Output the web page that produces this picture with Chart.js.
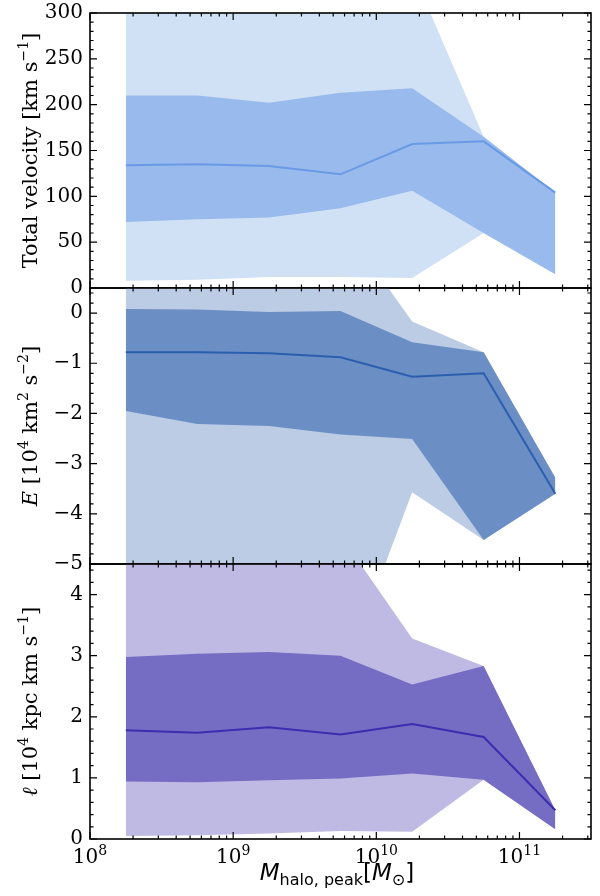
<!DOCTYPE html>
<html>
<head>
<meta charset="utf-8">
<title>Orbital properties vs halo mass</title>
<script src="https://cdn.jsdelivr.net/npm/chart.js@4.4.1/dist/chart.umd.min.js"></script>
<style>
  html, body { margin: 0; padding: 0; background: #fff; }
  #wrap { position: relative; width: 600px; height: 896px; }
  #wrap canvas { position: absolute; left: 0; top: 0; }
</style>
</head>
<body>
<div id="wrap">
  <canvas id="velocity" width="600" height="896"></canvas>
  <canvas id="energy" width="600" height="896"></canvas>
  <canvas id="angmom" width="600" height="896"></canvas>
</div>
<script>
// halo peak mass bin centres [Msun]
var massBins = [1.78e8, 5.62e8, 1.78e9, 5.62e9, 1.78e10, 5.62e10, 1.78e11];
var massRange = [1e8, 3.16e11];

// total velocity [km/s]
var velMedian  = [134, 135, 133, 124, 157, 160, 104];
var velInnerHi = [210, 210, 202, 213, 218, 165, 104];
var velInnerLo = [72, 75, 77, 87, 106, 60, 15];
var velOuterHi = [360, 360, 360, 360, 346, 165, 104];
var velOuterLo = [8, 9, 12, 12, 11, 60, 15];

// orbital energy [1e4 km^2/s^2]
var enMedian  = [-0.78, -0.78, -0.80, -0.88, -1.27, -1.20, -3.60];
var enInnerHi = [0.08, 0.07, 0.02, 0.04, -0.58, -0.78, -3.28];
var enInnerLo = [-1.95, -2.21, -2.25, -2.42, -2.51, -4.52, -3.60];
var enOuterHi = [2.0, 2.0, 2.0, 1.84, -0.17, -0.78, -3.28];
var enOuterLo = [-7.4, -7.4, -7.4, -7.38, -3.57, -4.52, -3.60];

// specific angular momentum [1e4 kpc km/s]
var amMedian  = [1.78, 1.74, 1.83, 1.71, 1.88, 1.67, 0.47];
var amInnerHi = [2.98, 3.03, 3.06, 3.00, 2.53, 2.83, 0.47];
var amInnerLo = [0.94, 0.93, 0.96, 0.99, 1.07, 0.97, 0.16];
var amOuterHi = [5.0, 5.0, 5.0, 4.97, 3.28, 2.83, 0.47];
var amOuterLo = [0.05, 0.06, 0.09, 0.13, 0.12, 0.97, 0.16];

var SERIF = '"DejaVu Serif", serif';
var SANS = '"DejaVu Sans", sans-serif';

function pts(arr) {
    return massBins.map(function (m, i) { return { x: m, y: arr[i] }; });
}

function range(min, max, step) {
    var out = [];
    for (var i = 0; ; i++) {
        var v = +(min + i * step).toFixed(6);
        if (v > max + 1e-9) break;
        out.push(v);
    }
    return out;
}

function isMult(v, m) {
    return Math.abs(v / m - Math.round(v / m)) < 1e-6;
}

function logTicks() {
    var out = [];
    for (var e = 8; e <= 11; e++) {
        for (var k = 1; k <= 9; k++) {
            var v = k * Math.pow(10, e);
            if (v >= massRange[0] && v <= massRange[1]) out.push(v);
        }
    }
    return out;
}

function drawRuns(ctx, runs, cx, cy, angle) {
    ctx.save();
    ctx.translate(cx, cy);
    ctx.rotate(angle);
    ctx.textAlign = 'left';
    ctx.textBaseline = 'alphabetic';
    ctx.fillStyle = '#000';
    var total = 0;
    runs.forEach(function (r) { ctx.font = r.font; r.w = ctx.measureText(r.text).width; total += r.w; });
    var x = -total / 2;
    runs.forEach(function (r) { ctx.font = r.font; ctx.fillText(r.text, x, r.dy || 0); x += r.w; });
    ctx.restore();
}

// inward ticks on all four sides + frame + axis titles
var framePlugin = {
    id: 'frame',
    afterDraw: function (chart) {
        var ctx = chart.ctx, a = chart.chartArea;
        var xs = chart.scales.x, ys = chart.scales.y;
        var p = chart.options.plugins.frame;
        ctx.save();
        ctx.strokeStyle = '#000';
        ctx.lineWidth = 1.2;
        ctx.beginPath();
        xs.ticks.forEach(function (t) {
            var px = xs.getPixelForValue(t.value);
            var len = isMult(Math.log10(t.value), 1) ? 7 : 3.5;
            ctx.moveTo(px, a.bottom); ctx.lineTo(px, a.bottom - len);
            ctx.moveTo(px, a.top); ctx.lineTo(px, a.top + len);
        });
        ys.ticks.forEach(function (t) {
            var py = ys.getPixelForValue(t.value);
            var len = isMult(t.value, p.yMajor) ? 7 : 3.5;
            ctx.moveTo(a.left, py); ctx.lineTo(a.left + len, py);
            ctx.moveTo(a.right, py); ctx.lineTo(a.right - len, py);
        });
        ctx.stroke();
        ctx.lineWidth = 1.6;
        ctx.strokeRect(a.left, a.top, a.right - a.left, a.bottom - a.top);

        drawRuns(ctx, p.title, 37, (a.top + a.bottom) / 2, -Math.PI / 2);

        if (p.showX) {
            xs.ticks.forEach(function (t) {
                var e = Math.log10(t.value);
                if (!isMult(e, 1)) return;
                drawRuns(ctx, [
                    { text: '10', font: '20px ' + SERIF },
                    { text: String(Math.round(e)), font: '14px ' + SERIF, dy: -8 }
                ], xs.getPixelForValue(t.value), a.bottom + 24, 0);
            });
            drawRuns(ctx, [
                { text: 'M', font: 'italic 23px ' + SANS },
                { text: 'halo, peak', font: '16px ' + SANS, dy: 5 },
                { text: '[', font: '23px ' + SANS },
                { text: 'M', font: 'italic 23px ' + SANS },
                { text: '\u2299', font: '16px ' + SANS, dy: 5 },
                { text: ']', font: '23px ' + SANS }
            ], 337, 880, 0);
        }
        ctx.restore();
    }
};

function makePanel(id, cfg) {
    var ctx = document.getElementById(id).getContext('2d');
    var yTicks = range(cfg.yMin, cfg.yMax, cfg.yStep);
    var hidden = 'rgba(0,0,0,0)';
    var base = { pointRadius: 0, borderWidth: 0, borderColor: hidden, tension: 0 };
    return new Chart(ctx, {
        type: 'line',
        data: {
            datasets: [
                Object.assign({ data: pts(cfg.outerHi), fill: '+1', backgroundColor: cfg.colors[0], order: 3 }, base),
                Object.assign({ data: pts(cfg.outerLo), fill: false, order: 3 }, base),
                Object.assign({ data: pts(cfg.innerHi), fill: '+1', backgroundColor: cfg.colors[1], order: 2 }, base),
                Object.assign({ data: pts(cfg.innerLo), fill: false, order: 2 }, base),
                { data: pts(cfg.median), fill: false, borderColor: cfg.colors[2], borderWidth: 2,
                  pointRadius: 0, tension: 0, order: 1 }
            ]
        },
        options: {
            responsive: false,
            animation: false,
            devicePixelRatio: 1,
            layout: { padding: { left: 0, right: 9, top: cfg.top, bottom: 896 - cfg.bottom } },
            plugins: {
                legend: { display: false },
                tooltip: { enabled: false },
                frame: { title: cfg.title, yMajor: cfg.yMajor, showX: cfg.showX }
            },
            scales: {
                x: {
                    type: 'logarithmic',
                    min: massRange[0],
                    max: massRange[1],
                    grid: { display: false, drawTicks: false },
                    border: { display: false },
                    ticks: { display: false },
                    afterBuildTicks: function (s) {
                        s.ticks = logTicks().map(function (v) { return { value: v }; });
                    },
                    afterFit: function (s) {
                        s.height = 0;
                        s.paddingLeft = s.paddingRight = 0;
                    }
                },
                y: {
                    min: cfg.yMin,
                    max: cfg.yMax,
                    grid: { display: false, drawTicks: false },
                    border: { display: false },
                    ticks: {
                        autoSkip: false,
                        padding: 7,
                        color: '#000',
                        font: { family: SERIF, size: 20 },
                        callback: function (v) {
                            if (!isMult(v, cfg.yMajor)) return '';
                            var r = Math.round(v);
                            return r < 0 ? '\u2212' + Math.abs(r) : String(r);
                        }
                    },
                    afterBuildTicks: function (s) {
                        s.ticks = yTicks.map(function (v) { return { value: v }; });
                    },
                    afterFit: function (s) {
                        s.width = 90;
                        s.paddingTop = s.paddingBottom = 0;
                    }
                }
            }
        },
        plugins: [framePlugin]
    });
}

var big = '21px ' + SERIF, sup = '14px ' + SERIF, ital = 'italic 21px ' + SERIF;

makePanel('velocity', {
    top: 13, bottom: 288, yMin: 0, yMax: 300, yStep: 10, yMajor: 50,
    median: velMedian, innerHi: velInnerHi, innerLo: velInnerLo, outerHi: velOuterHi, outerLo: velOuterLo,
    colors: ['#d0e0f5', '#98baec', '#6a9ae6'],
    title: [
        { text: 'Total velocity [km s', font: big },
        { text: '\u22121', font: sup, dy: -9 },
        { text: ']', font: big }
    ],
    showX: false
});

makePanel('energy', {
    top: 288, bottom: 564, yMin: -5, yMax: 0.5, yStep: 0.2, yMajor: 1,
    median: enMedian, innerHi: enInnerHi, innerLo: enInnerLo, outerHi: enOuterHi, outerLo: enOuterLo,
    colors: ['#bccce4', '#6b8fc5', '#2b5eae'],
    title: [
        { text: 'E', font: ital },
        { text: ' [10', font: big },
        { text: '4', font: sup, dy: -9 },
        { text: ' km', font: big },
        { text: '2', font: sup, dy: -9 },
        { text: ' s', font: big },
        { text: '\u22122', font: sup, dy: -9 },
        { text: ']', font: big }
    ],
    showX: false
});

makePanel('angmom', {
    top: 564, bottom: 839, yMin: 0, yMax: 4.5, yStep: 0.2, yMajor: 1,
    median: amMedian, innerHi: amInnerHi, innerLo: amInnerLo, outerHi: amOuterHi, outerLo: amOuterLo,
    colors: ['#bfbae3', '#756dc4', '#3a2db0'],
    title: [
        { text: '\u2113', font: ital },
        { text: ' [10', font: big },
        { text: '4', font: sup, dy: -9 },
        { text: ' kpc km s', font: big },
        { text: '\u22121', font: sup, dy: -9 },
        { text: ']', font: big }
    ],
    showX: true
});
</script>
</body>
</html>
